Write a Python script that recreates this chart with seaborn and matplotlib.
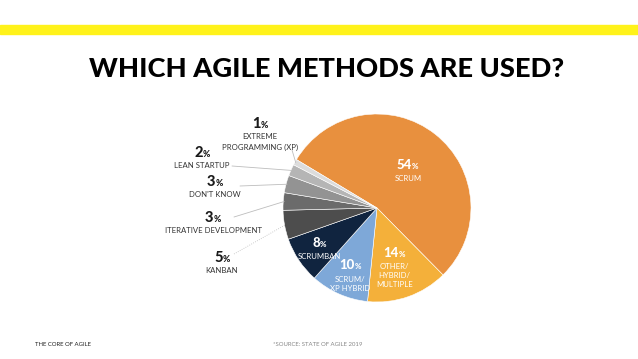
import matplotlib
matplotlib.use("Agg")
import matplotlib.pyplot as plt
import matplotlib.transforms as mtransforms
from matplotlib.patches import Rectangle
import numpy as np
import seaborn as sns

# chart data (Scrum first, then clockwise)
methods = ["SCRUM", "OTHER/\nHYBRID/\nMULTIPLE", "SCRUM/\nXP HYBRID", "SCRUMBAN", "KANBAN",
           "ITERATIVE DEVELOPMENT", "DON'T KNOW", "LEAN STARTUP", "EXTREME\nPROGRAMMING (XP)"]
shares = [54, 14, 10, 8, 5, 3, 3, 2, 1]
slice_colors = ["#E8903E", "#F4B03A", "#7EA8D8", "#10243F", "#4D4D4D",
                "#6B6B6B", "#939393", "#B5B5B5", "#DCDCDC"]

title = "WHICH AGILE METHODS ARE USED?"
footer_left = "THE CORE OF AGILE"
footer_src = "*SOURCE: STATE OF AGILE 2019"

sns.set_style("white")
plt.rcParams["font.family"] = ["Lato", "DejaVu Sans"]

W, H = 638, 359
fig = plt.figure(figsize=(W / 100, H / 100), dpi=100)

# pie centre / radius in pixels
cx, cy, R = 377, 208, 94
ax = fig.add_axes([(cx - R) / W, (H - cy - R) / H, 2 * R / W, 2 * R / H])
wedges, _ = ax.pie(shares, colors=slice_colors, startangle=149, counterclock=False,
                   radius=1, wedgeprops=dict(edgecolor="white", linewidth=0.4))
ax.set_xlim(-1, 1)
ax.set_ylim(-1, 1)
ax.set_aspect("equal")
ax.axis("off")

renderer = fig.canvas.get_renderer()


def pct_label(x, y, num, size, color):
    t1 = ax.text(x, y, num, fontsize=size, fontweight="black", ha="right",
                 va="baseline", color=color, clip_on=False)
    t2 = ax.text(x, y, "%", fontsize=size * 0.6, fontweight="black", ha="left",
                 va="baseline", color=color, clip_on=False)
    w1 = t1.get_window_extent(renderer).width
    w2 = t2.get_window_extent(renderer).width
    shift = (w1 - w2) / 2
    tr = mtransforms.offset_copy(ax.transData, fig=fig, x=shift, y=0, units="dots")
    t1.set_transform(tr)
    t2.set_transform(tr)


def sub_lines(x, y, text, color, first=8.5, step=6.6, size=5.6):
    for i, line in enumerate(text.split("\n")):
        tr = mtransforms.offset_copy(ax.transData, fig=fig, x=0, y=-(first + i * step),
                                     units="dots")
        ax.text(x, y, line, fontsize=size, ha="center", va="center", color=color,
                transform=tr, clip_on=False)


mids = []
for w in wedges:
    mids.append(np.deg2rad((w.theta1 + w.theta2) / 2))

# inside labels (first four slices)
inside_r = [0.53, 0.55, 0.71, 0.74]
for i, r in enumerate(inside_r):
    x, y = r * np.cos(mids[i]), r * np.sin(mids[i])
    pct_label(x, y, str(shares[i]), 9.5, "white")
    sub_lines(x, y, methods[i], "white", first=10, step=9)

# outside labels (pixel anchors of the number baseline) and leader line starts
out_px = {4: (222, 262), 5: (213, 222), 6: (215, 186), 7: (202, 157), 8: (260, 128)}
line_px = {4: (234, 254), 5: (234, 217), 6: (240, 186), 7: (232, 166), 8: (292, 150)}
for i, (px, py) in out_px.items():
    x, y = (px - cx) / R, (cy - py) / R
    pct_label(x, y, str(shares[i]), 10.5, "#1a1a1a")
    sub_lines(x, y, methods[i], "#333333", first=8.5, step=11 if i == 8 else 6.6)
    lx, ly = line_px[i]
    ex, ey = 0.99 * np.cos(mids[i]), 0.99 * np.sin(mids[i])
    ax.plot([(lx - cx) / R, ex], [(cy - ly) / R, ey], color="#BDBDBD", lw=0.6,
            ls=":" if i == 4 else "-", clip_on=False)

# yellow rule, title, footer
fig.patches.append(Rectangle((0, 1 - 34 / H), 1, 9 / H, transform=fig.transFigure,
                             color="#FFF21A", zorder=0))
fig.text(327 / W, 1 - 69 / H, title, fontsize=19.6, fontweight="black", ha="center",
         va="center", color="black")
fig.text(35 / W, 1 - 344 / H, footer_left, fontsize=4.3, ha="left", va="center",
         color="#222222")
fig.text(273 / W, 1 - 344 / H, footer_src, fontsize=4.3, ha="left", va="center",
         color="#888888")

fig.savefig("out.png", dpi=100)
